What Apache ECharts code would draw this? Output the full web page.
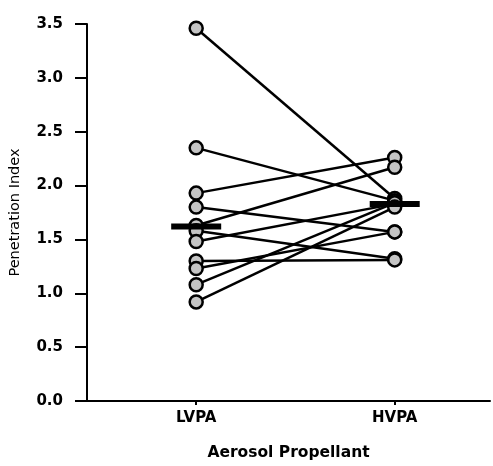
<!DOCTYPE html>
<html>
<head>
<meta charset="utf-8">
<script src="https://cdn.jsdelivr.net/npm/echarts@6/dist/echarts.min.js"></script>
<style>html,body{margin:0;padding:0;background:#fff}#c{width:493px;height:466px}</style>
</head>
<body>
<div id="c"></div>
<script>
var categories = ['LVPA', 'HVPA'];
var lvpa = [3.46, 2.35, 1.93, 1.80, 1.63, 1.58, 1.48, 1.30, 1.23, 1.08, 0.92];
var hvpa = [1.88, 1.86, 2.26, 1.57, 2.17, 1.32, 1.83, 1.31, 1.57, 1.84, 1.80];
var means = [1.62, 1.83];
var yTicks = [0, 0.5, 1.0, 1.5, 2.0, 2.5, 3.0, 3.5];

var chart = echarts.init(document.getElementById('c'));
var series = [];
lvpa.forEach(function (v, i) {
  series.push({
    type: 'line',
    data: [[0, v], [1, hvpa[i]]],
    showSymbol: false,
    symbol: 'none',
    lineStyle: { color: '#000', width: 2.5 },
    z: 2,
    silent: true
  });
});
var pts = [];
lvpa.forEach(function (v, i) { pts.push([0, v]); pts.push([1, hvpa[i]]); });
series.push({
  type: 'scatter',
  data: pts,
  symbol: 'circle',
  symbolSize: 13,
  itemStyle: { color: '#c4c4c4', borderColor: '#000', borderWidth: 2.5, opacity: 1 },
  z: 3
});
series.push({
  type: 'scatter',
  data: means.map(function (m, i) { return [i, m]; }),
  symbol: 'rect',
  symbolSize: [50, 6],
  itemStyle: { color: '#000', opacity: 1 },
  z: 4
});

chart.setOption({
  animation: false,
  backgroundColor: '#fff',
  grid: { left: 81, right: 3, top: 24, bottom: 63 },
  xAxis: {
    type: 'value',
    min: -0.55,
    max: 1.48,
    name: 'Aerosol Propellant',
    nameLocation: 'middle',
    nameGap: 44,
    nameTextStyle: { fontFamily: 'DejaVu Sans', fontSize: 15.5, fontWeight: 'bold', color: '#000' },
    splitLine: { show: false },
    axisLine: { show: true, onZero: false, lineStyle: { color: '#000', width: 2 } },
    axisTick: { show: true, customValues: [0, 1], length: 4, lineStyle: { color: '#000', width: 2 } },
    axisLabel: {
      customValues: [0, 1],
      margin: 10,
      formatter: function (v) { return categories[Math.round(v)]; },
      fontFamily: 'DejaVu Sans', fontSize: 15, fontWeight: 'bold', color: '#000'
    }
  },
  yAxis: {
    type: 'value',
    min: 0,
    max: 3.5,
    interval: 0.5,
    name: 'Penetration Index',
    nameLocation: 'middle',
    nameGap: 64,
    nameTextStyle: { fontFamily: 'DejaVu Sans', fontSize: 14.5, color: '#000' },
    splitLine: { show: false },
    axisLine: { show: true, onZero: false, lineStyle: { color: '#000', width: 2 } },
    axisTick: { show: true, length: 12, lineStyle: { color: '#000', width: 2 } },
    axisLabel: {
      margin: 24,
      formatter: function (v) { return yTicks.indexOf(v) >= 0 ? v.toFixed(1) : ''; },
      fontFamily: 'DejaVu Sans', fontSize: 15, fontWeight: 'bold', color: '#000'
    }
  },
  series: series
});
</script>
</body>
</html>
